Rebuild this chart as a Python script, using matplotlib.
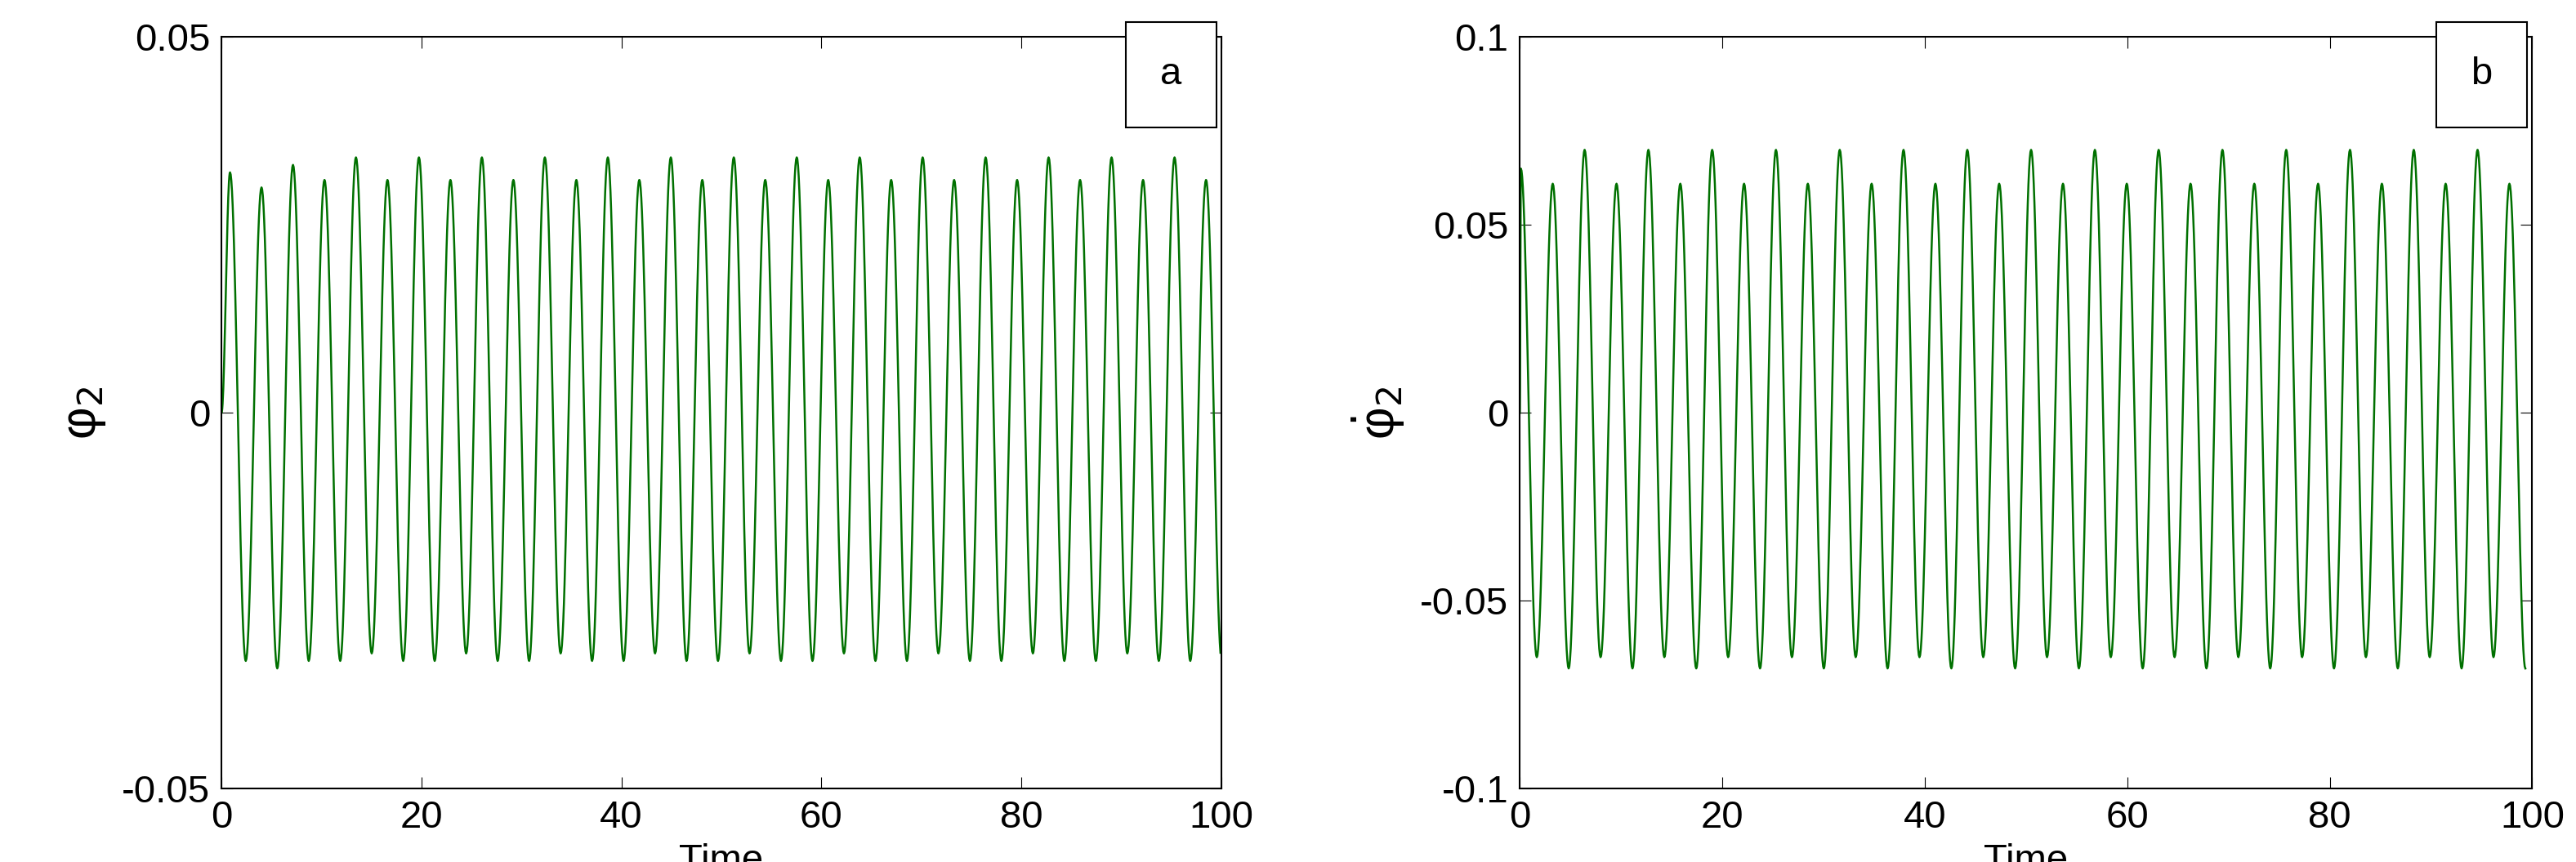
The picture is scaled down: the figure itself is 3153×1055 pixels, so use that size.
import matplotlib
matplotlib.use("Agg")
import matplotlib.pyplot as plt
import numpy as np

plt.rcParams['font.family'] = ['Liberation Sans', 'DejaVu Sans']

# extrema (one per half period)
period = 3.15
peaks_a = [0.032, 0.030, 0.033, 0.031, 0.034, 0.031, 0.034, 0.031, 0.034, 0.031, 0.034,
           0.031, 0.034, 0.031, 0.034, 0.031, 0.034, 0.031, 0.034, 0.031, 0.034, 0.031,
           0.034, 0.031, 0.034, 0.031, 0.034, 0.031, 0.034, 0.031, 0.034, 0.031]
troughs_a = [-0.033, -0.034, -0.033, -0.033, -0.032, -0.033, -0.033, -0.032, -0.033, -0.033,
             -0.032, -0.033, -0.033, -0.032, -0.033, -0.033, -0.032, -0.033, -0.033, -0.032,
             -0.033, -0.033, -0.032, -0.033, -0.033, -0.032, -0.033, -0.033, -0.032, -0.033,
             -0.033, -0.033]
peaks_b = [0.065, 0.061, 0.070, 0.061, 0.070, 0.061, 0.070, 0.061, 0.070, 0.061, 0.070,
           0.061, 0.070, 0.061, 0.070, 0.061, 0.070, 0.061, 0.070, 0.061, 0.070, 0.061,
           0.070, 0.061, 0.070, 0.061, 0.070, 0.061, 0.070, 0.061, 0.070, 0.061]
troughs_b = [-0.065, -0.068, -0.065, -0.068, -0.065, -0.068, -0.065, -0.068, -0.065, -0.068,
             -0.065, -0.068, -0.065, -0.068, -0.065, -0.068, -0.065, -0.068, -0.065, -0.068,
             -0.065, -0.068, -0.065, -0.068, -0.065, -0.068, -0.065, -0.068, -0.065, -0.068,
             -0.065, -0.068]


def build(peaks, troughs, t_first, start):
    ext_v = [start]
    ext_t = [0.0]
    for k in range(len(peaks)):
        ext_v += [peaks[k], troughs[k]]
        ext_t += [t_first + k * period, t_first + k * period + period / 2]
    ts, vs = [], []
    for i in range(len(ext_v) - 1):
        s = np.linspace(0, 1, 25)
        ts.append(ext_t[i] + s * (ext_t[i + 1] - ext_t[i]))
        vs.append(ext_v[i] + (ext_v[i + 1] - ext_v[i]) * (1 - np.cos(np.pi * s)) / 2)
    t = np.concatenate(ts)
    v = np.concatenate(vs)
    m = t <= 100
    return t[m], v[m]


ta, va = build(peaks_a, troughs_a, 0.85, 0.0)
tb, vb = build(peaks_b, troughs_b, 0.1, 0.0)

fig = plt.figure(figsize=(31.53, 10.55), dpi=100)
ax1 = fig.add_axes([0.086, 0.085, 0.388, 0.872])
ax2 = fig.add_axes([0.59, 0.085, 0.393, 0.872])

panels = [(ax1, ta, va, 0.05, [-0.05, 0, 0.05], ['-0.05', '0', '0.05'], r'φ$_2$', 'a'),
          (ax2, tb, vb, 0.1, [-0.1, -0.05, 0, 0.05, 0.1], ['-0.1', '-0.05', '0', '0.05', '0.1'],
           r'$\dot{\mathregular{φ}}_2$', 'b')]
for ax, t, v, lim, yt, ytl, ylab, tag in panels:
    ax.plot(t, v, color='#007000', lw=1.8)
    ax.set_xlim(0, 100)
    ax.set_ylim(-lim, lim)
    ax.set_xticks([0, 20, 40, 60, 80, 100])
    ax.set_yticks(yt)
    ax.set_yticklabels(ytl)
    ax.tick_params(labelsize=34, direction='in', length=10, top=True, right=True, pad=10)
    ax.set_xlabel('Time', fontsize=34, labelpad=6)
    ax.set_ylabel(ylab, fontsize=44, labelpad=12)
    ax.text(0.95, 0.95, tag, transform=ax.transAxes, fontsize=34, ha='center', va='center',
            bbox=dict(boxstyle='square,pad=0.9', fc='white', ec='black', lw=1.5))
    for sp in ax.spines.values():
        sp.set_linewidth(1.5)

fig.savefig('out.png')
